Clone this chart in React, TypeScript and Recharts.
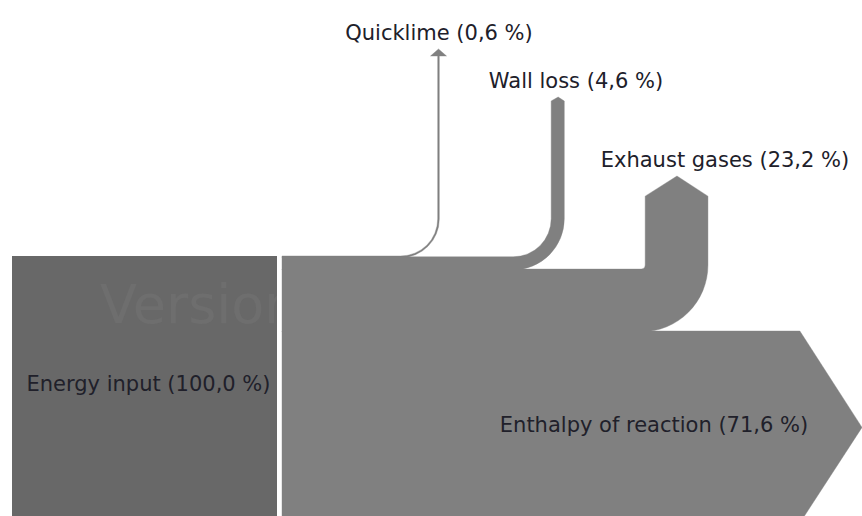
import React from 'react';
import { Sankey } from 'recharts';

// ---- data ----
const SOURCE_NAME = 'Energy input';
const SOURCE_VALUE = 100.0;
const FLOW_NAMES = ['Quicklime', 'Wall loss', 'Exhaust gases', 'Enthalpy of reaction'];
const FLOW_VALUES = [0.6, 4.6, 23.2, 71.6];

const fmt = (v: number) => `${v.toFixed(1).replace('.', ',')} %`;

const sankeyData = {
  nodes: [{ name: SOURCE_NAME }, ...FLOW_NAMES.map((name) => ({ name }))],
  links: FLOW_VALUES.map((value, i) => ({ source: 0, target: i + 1, value })),
};

// ---- styling / layout ----
const NODE_COLOR = '#686868';
const FLOW_COLOR = '#808080';
const TEXT_COLOR = '#20202a';
const WATERMARK_COLOR = '#6e6e6e';
const FONT = '"DejaVu Sans", Verdana, sans-serif';
const FONT_SIZE = 21;
const GAP = 5;
const ARROW_RATIO = 0.65;
const OVERLAP = 0.8;

type FlowLayout =
  | { kind: 'up'; riserX: number; tipY: number; radius: number; labelX: number; labelY: number }
  | { kind: 'right'; tipX: number; labelX: number; labelY: number };

const FLOW_LAYOUT: FlowLayout[] = [
  { kind: 'up', riserX: 437.7, tipY: 49, radius: 37, labelX: 439, labelY: 40 },
  { kind: 'up', riserX: 552, tipY: 97, radius: 38, labelX: 576, labelY: 88 },
  { kind: 'up', riserX: 646, tipY: 176, radius: 4, labelX: 725, labelY: 167 },
  { kind: 'right', tipX: 862, labelX: 654, labelY: 432 },
];

function FlowLink(props: any) {
  const { sourceX, sourceY, linkWidth, index, payload } = props;
  const L = FLOW_LAYOUT[index];
  if (!L) return <g />;
  const w = linkWidth;
  const o = index > 0 ? OVERLAP : 0;
  const yt = sourceY - w / 2 - o;
  const yb = sourceY + w / 2;
  const x0 = sourceX + GAP;
  let d = '';
  if (L.kind === 'right') {
    const shoulder = L.tipX - (ARROW_RATIO * w) / 2;
    d = `M${x0},${yt} L${shoulder},${yt} L${L.tipX},${sourceY} L${shoulder},${yb} L${x0},${yb} Z`;
  } else {
    const xr = L.riserX + w;
    const xl = L.riserX - o;
    const ri = L.radius;
    const ro = ri + (yb - yt);
    const cx = L.riserX + w / 2;
    const thin = w < 4;
    const headLen = thin ? 7 : (ARROW_RATIO * w) / 2;
    const half = thin ? 8 : w / 2;
    const base = L.tipY + headLen;
    d =
      `M${x0},${yt} L${xl - ri},${yt} A${ri},${ri} 0 0 0 ${xl},${yt - ri} L${xl},${base} ` +
      (thin ? `L${cx - half},${base} L${cx},${L.tipY} L${cx + half},${base} ` : `L${cx},${L.tipY} `) +
      `L${xr},${base} L${xr},${yt - ri} A${ro},${ro} 0 0 1 ${xl - ri},${yb} L${x0},${yb} Z`;
  }
  const name = payload?.target?.name ?? FLOW_NAMES[index];
  const value = payload?.value ?? FLOW_VALUES[index];
  return (
    <g>
      <path d={d} fill={FLOW_COLOR} stroke={FLOW_COLOR} strokeWidth={0.4} strokeLinejoin="round" />
      <text
        x={L.labelX}
        y={L.labelY}
        textAnchor="middle"
        fontFamily={FONT}
        fontSize={FONT_SIZE}
        fill={TEXT_COLOR}
      >
        {`${name} (${fmt(value)})`}
      </text>
    </g>
  );
}

function SourceNode(props: any) {
  const { x, y, width, height, payload } = props;
  if (payload?.name !== SOURCE_NAME) return <g />;
  const value = payload?.value ?? SOURCE_VALUE;
  return (
    <g>
      <defs>
        <clipPath id="srcClip">
          <rect x={x} y={y} width={width} height={height} />
        </clipPath>
      </defs>
      <rect x={x} y={y} width={width} height={height} fill={NODE_COLOR} />
      <g clipPath="url(#srcClip)">
        <text x={x + 88} y={y + 67} fontFamily={FONT} fontSize={54} fill={WATERMARK_COLOR}>
          Version
        </text>
      </g>
      <text
        x={x + width / 2 + 4}
        y={y + height / 2 + 1}
        textAnchor="middle"
        fontFamily={FONT}
        fontSize={FONT_SIZE}
        fill={TEXT_COLOR}
      >
        {`${payload.name} (${fmt(value)})`}
      </text>
    </g>
  );
}

export default function App() {
  return (
    <div
      style={{
        position: 'fixed',
        left: 0,
        top: 0,
        width: 862,
        height: 516,
        overflow: 'hidden',
        background: '#ffffff',
      }}
    >
      <Sankey
        width={862}
        height={530}
        data={sankeyData}
        nodeWidth={265}
        nodePadding={0}
        iterations={0}
        margin={{ top: 256, right: 0, bottom: 7, left: 12 }}
        node={SourceNode}
        link={FlowLink}
      />
    </div>
  );
}
